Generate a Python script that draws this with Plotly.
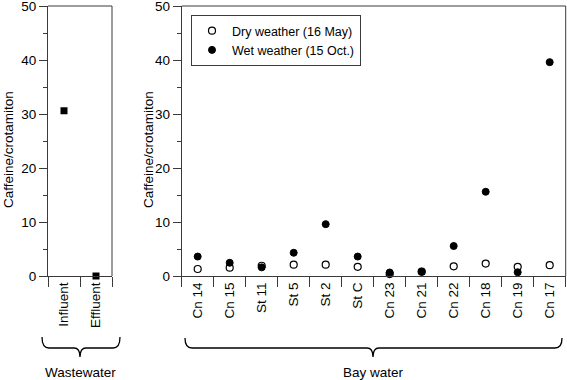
import plotly.graph_objects as go

# ---- data ----
ww_categories = ["Influent", "Effluent"]
ww_values = [30.6, 0.0]

bay_categories = ["Cn 14", "Cn 15", "St 11", "St 5", "St 2", "St C",
                  "Cn 23", "Cn 21", "Cn 22", "Cn 18", "Cn 19", "Cn 17"]
dry_values = [1.3, 1.55, 1.9, 2.1, 2.1, 1.7, 0.35, 0.8, 1.8, 2.3, 1.7, 2.0]
wet_values = [3.6, 2.45, 1.6, 4.3, 9.6, 3.6, 0.65, 0.8, 5.55, 15.6, 0.7, 39.6]

dry_name = "Dry weather (16 May)"
wet_name = "Wet weather (15 Oct.)"
y_title = "Caffeine/crotamiton"
group_labels = ["Wastewater", "Bay water"]

W, H = 567, 380
FONT = "Liberation Sans, Arial, Helvetica, sans-serif"
FS = 13.5
LINE = "#3a3a3a"


def px(x):
    return x / W


def py(y):
    return 1 - y / H


fig = go.Figure()

fig.add_trace(go.Scatter(
    x=ww_categories, y=ww_values, mode="markers", xaxis="x", yaxis="y",
    marker=dict(symbol="square", size=7, color="black"), showlegend=False,
    cliponaxis=False))

fig.add_trace(go.Scatter(
    x=bay_categories, y=dry_values, mode="markers", xaxis="x2", yaxis="y2",
    name=dry_name, cliponaxis=False,
    marker=dict(symbol="circle", size=7, color="white",
                line=dict(color="black", width=1.2))))

fig.add_trace(go.Scatter(
    x=bay_categories, y=wet_values, mode="markers", xaxis="x2", yaxis="y2",
    name=wet_name, cliponaxis=False,
    marker=dict(symbol="circle", size=7, color="black",
                line=dict(color="black", width=1))))

xdom1 = [px(48), px(112)]
xdom2 = [px(181.7), px(565.7)]
ydom = [py(276), py(6)]

xaxis_common = dict(
    type="category", tickson="boundaries", ticks="outside", ticklen=10,
    tickcolor=LINE, tickangle=-90, showline=True, linecolor=LINE,
    linewidth=1, showgrid=False, zeroline=False, automargin=False,
    ticklabeloverflow="allow",
    tickfont=dict(family=FONT, size=FS, color="black"), fixedrange=True)

yaxis_common = dict(
    range=[0, 50], dtick=10, ticks="outside", ticklen=8, tickcolor=LINE,
    showline=True, linecolor=LINE, linewidth=1, showgrid=False,
    zeroline=False, automargin=False, domain=ydom,
    ticklabeloverflow="allow",
    minor=dict(dtick=5, ticks="outside", ticklen=4, tickcolor=LINE,
               showgrid=False),
    tickfont=dict(family=FONT, size=FS, color="black"), fixedrange=True)

fig.update_layout(
    width=W, height=H,
    margin=dict(l=0, r=0, t=0, b=0),
    paper_bgcolor="white", plot_bgcolor="white",
    font=dict(family=FONT, size=12, color="black"),
    xaxis=dict(domain=xdom1, anchor="y", range=[-0.5, 1.5], **xaxis_common),
    yaxis=dict(anchor="x", **yaxis_common),
    xaxis2=dict(domain=xdom2, anchor="y2", range=[-0.5, 11.5], **xaxis_common),
    yaxis2=dict(anchor="x2", **yaxis_common),
    legend=dict(x=px(191), y=py(15), xanchor="left", yanchor="top",
                bordercolor=LINE, borderwidth=1, bgcolor="white",
                font=dict(family=FONT, size=12.5, color="black"),
                itemwidth=30, tracegroupgap=0),
)

shapes = []
# frame top and right borders for both panels
for xr, yr in (("x domain", "y domain"), ("x2 domain", "y2 domain")):
    shapes.append(dict(type="line", xref=xr, yref=yr, x0=0, x1=1, y0=1, y1=1,
                       line=dict(color=LINE, width=1)))
    shapes.append(dict(type="line", xref=xr, yref=yr, x0=1, x1=1, y0=0, y1=1,
                       line=dict(color=LINE, width=1)))


def brace(x0, x1, xc, ytop, yh, yp):
    pts = (f"M {px(x0)},{py(ytop)} "
           f"Q {px(x0)},{py(yh)} {px(x0 + 7)},{py(yh)} "
           f"L {px(xc - 6)},{py(yh)} "
           f"Q {px(xc)},{py(yh)} {px(xc)},{py(yp)} "
           f"Q {px(xc)},{py(yh)} {px(xc + 6)},{py(yh)} "
           f"L {px(x1 - 7)},{py(yh)} "
           f"Q {px(x1)},{py(yh)} {px(x1)},{py(ytop)}")
    return dict(type="path", xref="paper", yref="paper", path=pts,
                line=dict(color="black", width=1.3))


shapes.append(brace(42, 120, 80, 337, 348, 357))
shapes.append(brace(185, 562, 373, 338, 348, 357))
fig.update_layout(shapes=shapes)


def label(text, x, y, angle=0):
    return dict(text=text, x=px(x), y=py(y), xref="paper", yref="paper",
                xanchor="center", yanchor="middle", textangle=angle,
                showarrow=False, font=dict(family=FONT, size=FS))


annotations = [
    label(y_title, 8, 150, -90),
    label(y_title, 148, 150, -90),
    label(group_labels[0], 80, 372),
    label(group_labels[1], 373, 372),
]
fig.update_layout(annotations=annotations)

fig.write_html(
    "out.html",
    config={"displayModeBar": False},
    post_script="document.body.style.margin='0';document.body.style.padding='0';",
)
